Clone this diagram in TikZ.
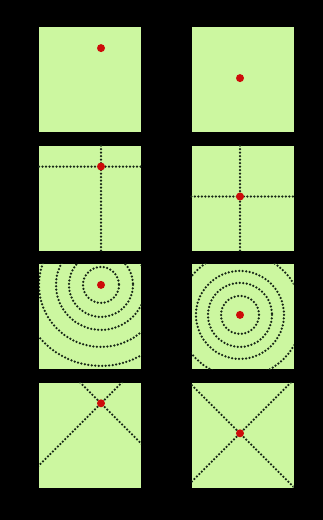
\documentclass[tikz,border=0pt]{standalone}
\usetikzlibrary{calc}
\definecolor{leaf}{RGB}{204,247,160}
\definecolor{pulse}{RGB}{205,12,10}
\definecolor{dotink}{RGB}{22,38,22}

\begin{document}
\begin{tikzpicture}[
  x=1pt, y=-1pt,
  panel/.style={fill=leaf, minimum width=102pt, minimum height=105pt, inner sep=0pt},
  source/.style={circle, fill=pulse, inner sep=0pt, minimum size=8pt},
  wave/.style={draw=dotink, line width=2.5pt, line cap=round, dash pattern=on 0pt off 3.5pt}
]
\fill[black] (0,0) rectangle (323,520);
\useasboundingbox (0,0) rectangle (323,520);

% four rows of two panels
\foreach \r in {1,...,4}{
  \node[panel] (left\r) at (90.2, {79.8+118.4*(\r-1)}) {};
  \node[panel] (right\r) at (242.5, {79.8+118.4*(\r-1)}) {};
  \coordinate (srcL\r) at ($(left\r.north)+(10.8,21)$);
  \coordinate (srcR\r) at ($(right\r.north)+(-2.5,51)$);
}

% row 2: straight cross
\draw[wave] (left2.west |- srcL2) -- (left2.east |- srcL2);
\draw[wave] (left2.north -| srcL2) -- (left2.south -| srcL2);
\draw[wave] (right2.west |- srcR2) -- (right2.east |- srcR2);
\draw[wave] (right2.north -| srcR2) -- (right2.south -| srcR2);

% row 3: rings
\begin{scope}
  \clip (left3.south west) rectangle (left3.north east);
  \foreach \rad in {18,32,45,62,81} \draw[wave] (srcL3) circle[radius=\rad];
\end{scope}
\begin{scope}
  \clip (right3.south west) rectangle (right3.north east);
  \foreach \rad in {19,32,44,62} \draw[wave] (srcR3) circle[radius=\rad];
\end{scope}

% row 4: diagonals
\begin{scope}
  \clip (left4.south west) rectangle (left4.north east);
  \draw[wave] ($(srcL4)+(-110,-110)$) -- ($(srcL4)+(110,110)$);
  \draw[wave] ($(srcL4)+(-110,110)$) -- ($(srcL4)+(110,-110)$);
\end{scope}
\begin{scope}
  \clip (right4.south west) rectangle (right4.north east);
  \draw[wave] ($(srcR4)+(-110,-110)$) -- ($(srcR4)+(110,110)$);
  \draw[wave] ($(srcR4)+(-110,110)$) -- ($(srcR4)+(110,-110)$);
\end{scope}

% red sources
\foreach \r in {1,...,4}{
  \node[source] (dotL\r) at (srcL\r) {};
  \node[source] (dotR\r) at (srcR\r) {};
}
\end{tikzpicture}
\end{document}
